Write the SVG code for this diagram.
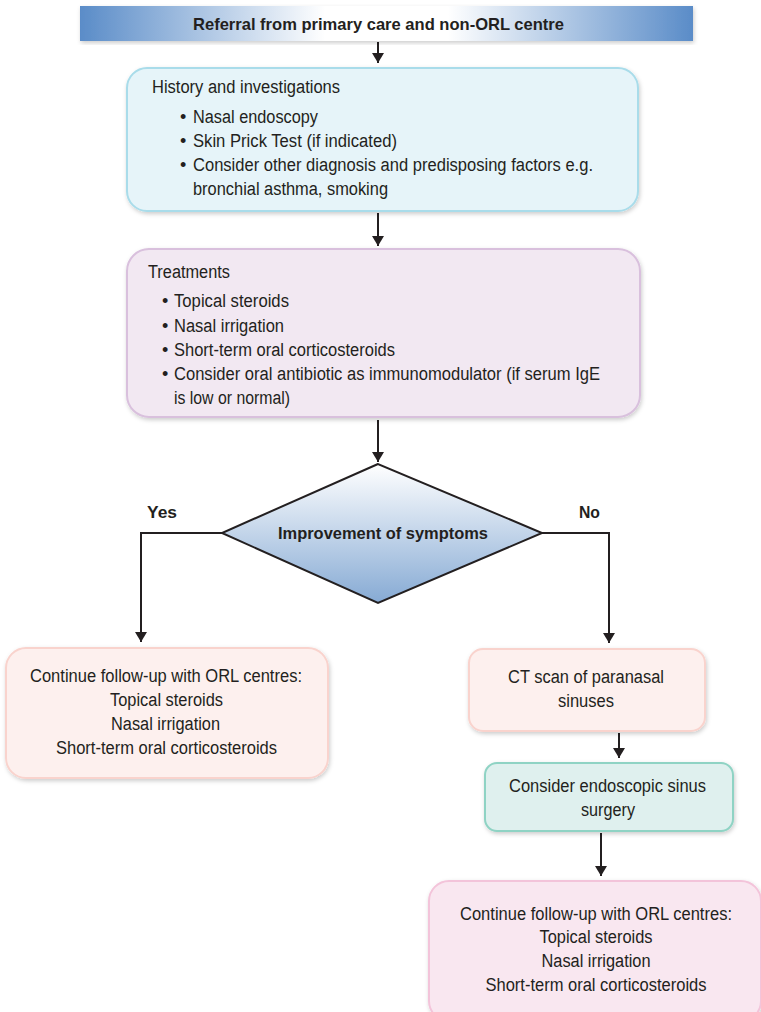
<svg xmlns="http://www.w3.org/2000/svg" width="761" height="1012" viewBox="0 0 761 1012">
<defs>
<linearGradient id="gTop" x1="0" y1="0" x2="1" y2="0">
<stop offset="0" stop-color="#5a8cc8"/><stop offset="0.4" stop-color="#ffffff"/><stop offset="0.6" stop-color="#ffffff"/><stop offset="1" stop-color="#5a8cc8"/>
</linearGradient>
<linearGradient id="gDia" x1="0" y1="0" x2="0" y2="1">
<stop offset="0" stop-color="#ffffff"/><stop offset="1" stop-color="#86aad4"/>
</linearGradient>
<filter id="sh" x="-5%" y="-5%" width="110%" height="115%">
<feDropShadow dx="1" dy="2" stdDeviation="2" flood-color="#000" flood-opacity="0.2"/>
</filter>
<marker id="ah" viewBox="0 0 10 12" refX="10" refY="6" markerWidth="6" markerHeight="6" orient="auto" markerUnits="strokeWidth">
<path d="M0,0 L10,6 L0,12 Z" fill="#231f20"/>
</marker>
</defs>
<style>
text{font-family:"Liberation Sans",Arial,sans-serif;font-size:18px;fill:#231f20}
.b{font-weight:bold;font-size:17px}
.c{text-anchor:middle}
.arr{fill:none;stroke:#231f20;stroke-width:2;marker-end:url(#ah)}
</style>
<g id="connectors">
<line class="arr" x1="378" y1="42" x2="378" y2="63"/>
<line class="arr" x1="378" y1="213" x2="378" y2="246"/>
<line class="arr" x1="378" y1="420" x2="378" y2="462"/>
<polyline class="arr" points="222,533 141,533 141,642"/>
<polyline class="arr" points="542,533 609,533 609,643"/>
<line class="arr" x1="619" y1="733" x2="619" y2="758"/>
<line class="arr" x1="601" y1="833" x2="601" y2="876"/>
</g>
<g id="n-referral">
<rect x="80" y="6" width="613" height="35" fill="url(#gTop)" filter="url(#sh)"/>
<text class="b" x="193" y="30" textLength="371" lengthAdjust="spacingAndGlyphs">Referral from primary care and non-ORL centre</text>
</g>
<g id="n-history">
<rect x="127" y="68" width="511" height="143" rx="20" fill="#e6f4f9" stroke="#a9dcea" stroke-width="2" filter="url(#sh)"/>
<text x="152" y="93" textLength="188" lengthAdjust="spacingAndGlyphs">History and investigations</text>
<text x="180" y="123">•</text><text x="193" y="123" textLength="125" lengthAdjust="spacingAndGlyphs">Nasal endoscopy</text>
<text x="180" y="147">•</text><text x="193" y="147" textLength="204" lengthAdjust="spacingAndGlyphs">Skin Prick Test (if indicated)</text>
<text x="180" y="171">•</text><text x="193" y="171" textLength="400" lengthAdjust="spacingAndGlyphs">Consider other diagnosis and predisposing factors e.g.</text>
<text x="193" y="195" textLength="195" lengthAdjust="spacingAndGlyphs">bronchial asthma, smoking</text>
</g>
<g id="n-treat">
<rect x="127" y="249" width="513" height="168" rx="22" fill="#f2e8f2" stroke="#d9c0dd" stroke-width="2" filter="url(#sh)"/>
<text x="148" y="278" textLength="82" lengthAdjust="spacingAndGlyphs">Treatments</text>
<text x="162" y="307">•</text><text x="174" y="307" textLength="115" lengthAdjust="spacingAndGlyphs">Topical steroids</text>
<text x="162" y="332">•</text><text x="174" y="332" textLength="110" lengthAdjust="spacingAndGlyphs">Nasal irrigation</text>
<text x="162" y="356">•</text><text x="174" y="356" textLength="221" lengthAdjust="spacingAndGlyphs">Short-term oral corticosteroids</text>
<text x="162" y="380">•</text><text x="174" y="380" textLength="426" lengthAdjust="spacingAndGlyphs">Consider oral antibiotic as immunomodulator (if serum IgE</text>
<text x="174" y="404" textLength="116" lengthAdjust="spacingAndGlyphs">is low or normal)</text>
</g>
<g id="n-decision">
<polygon points="378,464 222,533 378,603 542,533" fill="url(#gDia)" stroke="#231f20" stroke-width="2"/>
<text class="b" x="278" y="539" textLength="210" lengthAdjust="spacingAndGlyphs">Improvement of symptoms</text>
<text class="b" x="147" y="518" textLength="30" lengthAdjust="spacingAndGlyphs">Yes</text>
<text class="b" x="579" y="518" textLength="21" lengthAdjust="spacingAndGlyphs">No</text>
</g>
<g id="n-yes">
<rect x="6" y="648" width="322" height="130" rx="20" fill="#fdf0ee" stroke="#f9d3cd" stroke-width="2" filter="url(#sh)"/>
<text x="30" y="682" textLength="272" lengthAdjust="spacingAndGlyphs">Continue follow-up with ORL centres:</text>
<text x="110" y="706" textLength="113" lengthAdjust="spacingAndGlyphs">Topical steroids</text>
<text x="111" y="730" textLength="109" lengthAdjust="spacingAndGlyphs">Nasal irrigation</text>
<text x="56" y="754" textLength="221" lengthAdjust="spacingAndGlyphs">Short-term oral corticosteroids</text>
</g>
<g id="n-ct">
<rect x="469" y="649" width="236" height="82" rx="14" fill="#fdf0ee" stroke="#f9d3cd" stroke-width="2" filter="url(#sh)"/>
<text x="508" y="683" textLength="156" lengthAdjust="spacingAndGlyphs">CT scan of paranasal</text>
<text x="558" y="707" textLength="56" lengthAdjust="spacingAndGlyphs">sinuses</text>
</g>
<g id="n-surgery">
<rect x="485" y="763" width="248" height="68" rx="12" fill="#dff0ee" stroke="#8fd3c4" stroke-width="2" filter="url(#sh)"/>
<text x="509" y="792" textLength="197" lengthAdjust="spacingAndGlyphs">Consider endoscopic sinus</text>
<text x="581" y="816" textLength="54" lengthAdjust="spacingAndGlyphs">surgery</text>
</g>
<g id="n-final">
<rect x="429" y="881" width="332" height="140" rx="20" fill="#f9e7f0" stroke="#f3c4da" stroke-width="2" filter="url(#sh)"/>
<text class="c" x="596" y="920" textLength="272" lengthAdjust="spacingAndGlyphs">Continue follow-up with ORL centres:</text>
<text class="c" x="596" y="943" textLength="113" lengthAdjust="spacingAndGlyphs">Topical steroids</text>
<text class="c" x="596" y="967" textLength="109" lengthAdjust="spacingAndGlyphs">Nasal irrigation</text>
<text class="c" x="596" y="991" textLength="221" lengthAdjust="spacingAndGlyphs">Short-term oral corticosteroids</text>
</g>
</svg>
